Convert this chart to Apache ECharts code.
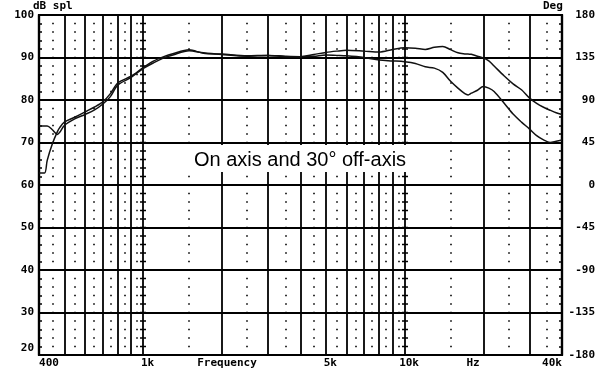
<!DOCTYPE html>
<html><head><meta charset="utf-8">
<script src="https://cdn.jsdelivr.net/npm/echarts@6/dist/echarts.min.js"></script>
<style>html,body{margin:0;padding:0;background:#fff}#c{width:600px;height:386px}</style>
</head><body><div id="c"></div>
<script>
// ---- data ----
const freqs = [400,420,430,450,470,480,500,550,600,650,700,750,800,900,1000,1100,1200,1300,1500,1700,2000,2500,3000,3500,4000,4500,5000,5500,6000,7000,8000,9000,10000,11000,12000,13000,14000,15000,16000,17000,17500,18000,19000,20000,21000,22000,24000,26000,28000,30000,32000,34000,36000,38000,40000];
const onAxis = [62.8,62.8,65.8,69.7,72.5,73.5,74.8,76.0,77.2,78.3,79.5,81.5,84.0,85.6,87.6,89.2,90.2,90.9,91.8,91.0,90.8,90.4,90.5,90.3,90.2,90.7,91.2,91.5,91.7,91.5,91.3,91.9,92.3,92.2,91.9,92.4,92.6,91.85,91.1,90.85,90.8,90.75,90.3,89.9,89.2,88.0,85.7,83.8,82.4,80.5,79.2,78.3,77.6,77.0,76.6];
const offAxis = [73.9,73.9,73.9,73.0,71.9,72.4,74.0,75.6,76.6,77.6,79.0,80.8,83.5,85.3,87.4,88.8,89.9,90.6,91.6,91.1,90.7,90.3,90.5,90.2,90.2,90.3,90.6,90.5,90.4,90.0,89.4,89.2,89.0,88.6,87.8,87.5,86.5,84.4,82.8,81.5,81.2,81.6,82.3,83.2,82.8,82.0,79.3,76.7,74.8,73.2,71.6,70.6,70.0,70.3,70.6];
const xLabelValues = [400,1000,5000,10000,40000];
const xLabelTexts = ['400','1k','5k','10k','40k'];
const solidFreqs = [500,600,700,800,900,1000,2000,3000,4000,5000,6000,7000,8000,9000,10000,20000,30000];
const dottedFreqs = [450,550,650,750,850,950,1500,2500,3500,4500,5500,6500,7500,8500,9500,15000,25000,35000];
const crossFreqs = [1000,10000];
const annotation = 'On axis and 30° off-axis';

const MONO = '"DejaVu Sans Mono", monospace';
const labelText = {};
xLabelValues.forEach((v,i)=>{labelText[v]=xLabelTexts[i];});

const markData = [];
solidFreqs.forEach(f=>markData.push({xAxis:f, lineStyle:{color:'#000',width:1.8,type:'solid'}}));
dottedFreqs.forEach(f=>markData.push({xAxis:f, lineStyle:{color:'#000',width:1.6,type:[1.6,6.9],dashOffset:0.8}}));
crossFreqs.forEach(f=>markData.push({xAxis:f, lineStyle:{color:'#000',width:6,type:[1.4,7.1],dashOffset:0.7}}));

const chart = echarts.init(document.getElementById('c'));
chart.setOption({
  animation:false,
  backgroundColor:'#fff',
  grid:{left:39,right:38,top:15,bottom:31,show:true,borderColor:'#000',borderWidth:2.2,backgroundColor:'transparent'},
  xAxis:{
    type:'log', logBase:10, min:400, max:40000,
    axisLine:{show:true,lineStyle:{color:'#000',width:2.2}},
    axisTick:{show:false},
    splitLine:{show:false}, minorSplitLine:{show:false},
    axisLabel:{
      customValues:xLabelValues,
      margin:3,
      color:'#000', fontFamily:MONO, fontWeight:'bold', fontSize:11,
      formatter:function(v){
        const t = labelText[v] || '';
        if (v===400) return '{l|'+t+'}';
        if (v===40000) return '{r|'+t+'}';
        return '{m|'+t+'}';
      },
      rich:{
        l:{padding:[0,0,0,20],fontFamily:MONO,fontWeight:'bold',fontSize:11,color:'#000'},
        r:{padding:[0,20,0,0],fontFamily:MONO,fontWeight:'bold',fontSize:11,color:'#000'},
        m:{padding:[0,0,0,9],fontFamily:MONO,fontWeight:'bold',fontSize:11,color:'#000'}
      }
    }
  },
  yAxis:[{
    type:'value', min:20, max:100, interval:10, position:'left',
    axisLine:{show:true,lineStyle:{color:'#000',width:2.2}},
    axisTick:{show:true,inside:true,length:3,lineStyle:{color:'#000',width:1.5}},
    minorTick:{show:true,splitNumber:5,length:3,lineStyle:{color:'#000',width:1.5}},
    splitLine:{show:true,lineStyle:{color:'#000',width:1.8}},
    axisLabel:{
      margin:5, color:'#000', fontFamily:MONO, fontWeight:'bold', fontSize:11,
      formatter:function(v){ return v===20 ? '{low|20}' : String(v); },
      rich:{low:{padding:[0,0,14,0],fontFamily:MONO,fontWeight:'bold',fontSize:11,color:'#000'}}
    }
  },{
    type:'value', min:-180, max:180, interval:45, position:'right',
    axisLine:{show:true,lineStyle:{color:'#000',width:2.2}},
    axisTick:{show:true,inside:true,length:3,lineStyle:{color:'#000',width:1.5}},
    minorTick:{show:true,splitNumber:5,length:3,lineStyle:{color:'#000',width:1.5}},
    splitLine:{show:false},
    axisLabel:{margin:33,align:'right',color:'#000',fontFamily:MONO,fontWeight:'bold',fontSize:11}
  }],
  series:[{
    name:'On axis', type:'line', showSymbol:false, smooth:0.3,
    data:freqs.map((f,i)=>[f,onAxis[i]]),
    lineStyle:{color:'#111',width:1.5}, itemStyle:{color:'#111'}, z:5,
    markLine:{silent:true,symbol:['none','none'],label:{show:false},animation:false,data:markData}
  },{
    name:'30° off-axis', type:'line', showSymbol:false, smooth:0.3,
    data:freqs.map((f,i)=>[f,offAxis[i]]),
    lineStyle:{color:'#111',width:1.5}, itemStyle:{color:'#111'}, z:5
  }],
  graphic:[
    {type:'text',z:100,left:33,top:1,style:{text:'dB spl',font:'bold 11px '+MONO,fill:'#000'}},
    {type:'text',z:100,left:543,top:1,style:{text:'Deg',font:'bold 11px '+MONO,fill:'#000'}},
    {type:'text',z:100,x:227,y:363,style:{text:'Frequency',font:'bold 11px '+MONO,fill:'#000',align:'center',verticalAlign:'middle'}},
    {type:'text',z:100,x:473,y:363,style:{text:'Hz',font:'bold 11px '+MONO,fill:'#000',align:'center',verticalAlign:'middle'}},
    {type:'rect',z:100,shape:{x:188,y:145,width:222,height:27},style:{fill:'#fff'}},
    {type:'text',z:101,x:300,y:160,style:{text:annotation,font:'20px "Liberation Sans", Arial, sans-serif',fill:'#000',align:'center',verticalAlign:'middle'}}
  ]
});
</script>
</body></html>
